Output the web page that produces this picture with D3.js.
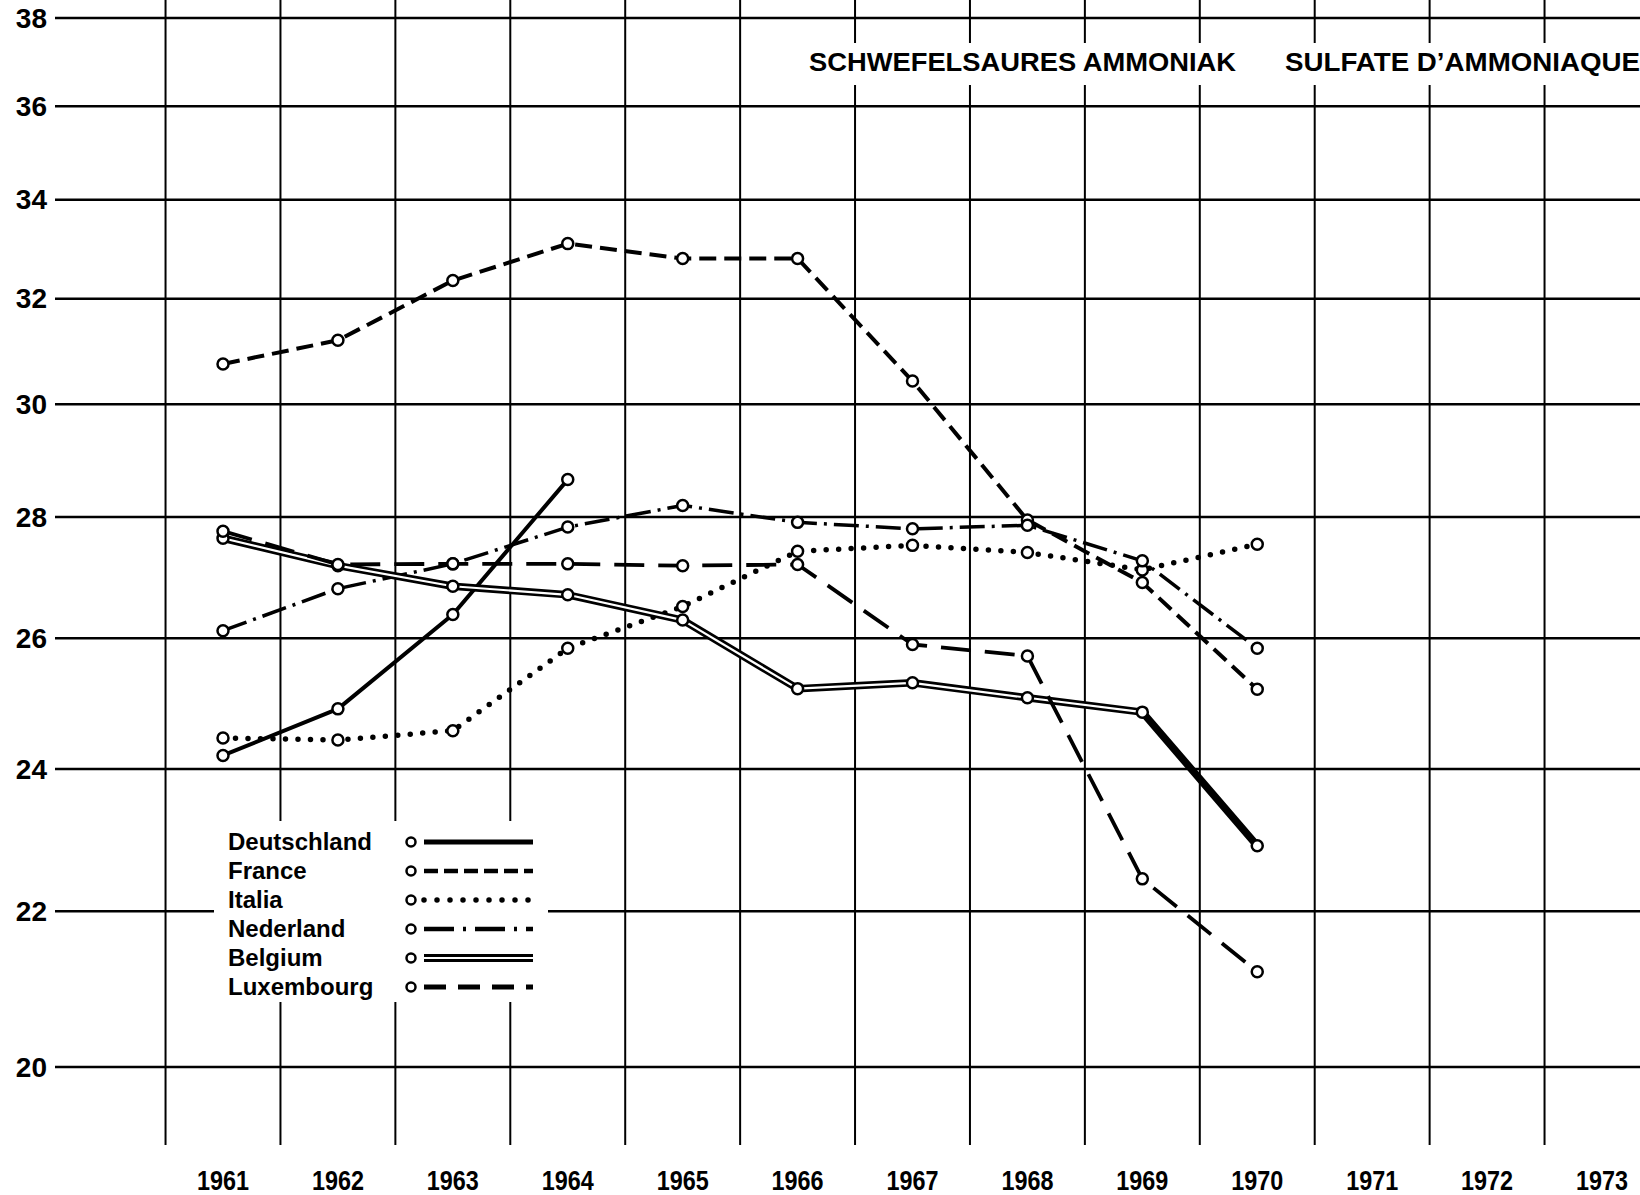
<!DOCTYPE html>
<html>
<head>
<meta charset="utf-8">
<script src="https://cdn.jsdelivr.net/npm/d3@7"></script>
<style>
  html, body { margin: 0; padding: 0; background: #fff; }
  svg { display: block; }
  text { font-family: "Liberation Sans", Arial, Helvetica, sans-serif; font-weight: bold; fill: #000; }
</style>
</head>
<body>
<svg id="chart" width="1640" height="1195"></svg>
<script>
// ---------- data ----------
const years = [1961, 1962, 1963, 1964, 1965, 1966, 1967, 1968, 1969, 1970];
const axisYears = [1961, 1962, 1963, 1964, 1965, 1966, 1967, 1968, 1969, 1970, 1971, 1972, 1973];
const yTicks = [20, 22, 24, 26, 28, 30, 32, 34, 36, 38];

const deutschland = [24.2, 24.9, 26.38, 28.65];
const france      = [30.75, 31.2, 32.36, 33.1, 32.8, 32.8, 30.43, 27.95, 26.9, 25.2];
const italia      = [24.46, 24.43, 24.57, 25.84, 26.51, 27.42, 27.52, 27.4, 27.11, 27.54];
const nederland   = [26.12, 26.8, 27.21, 27.83, 28.2, 27.91, 27.8, 27.86, 27.26, 25.84];
const belgium     = [27.64, 27.18, 26.84, 26.7, 26.29, 25.21, 25.3, 25.07, 24.85, 22.9];
const luxembourg  = [27.76, 27.2, 27.21, 27.21, 27.18, 27.2, 25.9, 25.72, 22.44, 21.2];

const seriesNames = ["Deutschland", "France", "Italia", "Nederland", "Belgium", "Luxembourg"];
const titleDe = "SCHWEFELSAURES AMMONIAK";
const titleFr = "SULFATE D\u2019AMMONIAQUE";

// ---------- styles ----------
const styles = {
  Deutschland: { width: 4,   dash: null },
  France:      { width: 4,   dash: "17 8" },
  Italia:      { width: 5.5, dash: "0 12.5", cap: "round" },
  Nederland:   { width: 3.5, dash: "25 7 3 7" },
  Belgium:     { width: 7.5, dash: null, double: true },
  Luxembourg:  { width: 3.8, dash: "30 14" }
};
const legendStyles = {
  Deutschland: { width: 5,   dash: null },
  France:      { width: 4.5, dash: "14 6" },
  Italia:      { width: 5.5, dash: "0 13", cap: "round" },
  Nederland:   { width: 4.5, dash: "30 9 3 9" },
  Belgium:     { width: 8,   dash: null, double: true },
  Luxembourg:  { width: 5,   dash: "22 12" }
};

const series = [
  { name: "Deutschland", values: deutschland },
  { name: "France", values: france },
  { name: "Italia", values: italia },
  { name: "Nederland", values: nederland },
  { name: "Belgium", values: belgium },
  { name: "Luxembourg", values: luxembourg }
];

// ---------- scales ----------
const svg = d3.select("#chart");
const x = d3.scaleLinear().domain([1961, 1973]).range([223, 1602]);
const y = d3.scaleLog().domain([20, 38]).range([1067, 18]);

// ---------- grid ----------
const grid = svg.append("g");
grid.selectAll("line.h").data(yTicks).enter().append("line")
  .attr("x1", 55).attr("x2", 1640)
  .attr("y1", d => y(d)).attr("y2", d => y(d))
  .attr("stroke", "#000").attr("stroke-width", 2.5);

const vLines = d3.range(axisYears[0] - 0.5, axisYears[axisYears.length - 1], 1);
grid.selectAll("line.v").data(vLines).enter().append("line")
  .attr("x1", d => x(d)).attr("x2", d => x(d))
  .attr("y1", 0).attr("y2", 1145)
  .attr("stroke", "#000").attr("stroke-width", 2);

// y tick labels
svg.append("g").selectAll("text").data(yTicks).enter().append("text")
  .attr("x", 47).attr("y", d => y(d))
  .attr("text-anchor", "end").attr("dominant-baseline", "central")
  .attr("font-size", 28)
  .text(d => d);

// x labels
svg.append("g").selectAll("text").data(axisYears).enter().append("text")
  .attr("x", d => x(d)).attr("y", 1190)
  .attr("text-anchor", "middle")
  .attr("font-size", 28)
  .attr("textLength", 52).attr("lengthAdjust", "spacingAndGlyphs")
  .text(d => d);

// title with white background
svg.append("rect").attr("x", 797).attr("y", 43).attr("width", 843).attr("height", 42).attr("fill", "#fff");
svg.append("text").attr("x", 809).attr("y", 71).attr("font-size", 26)
  .attr("textLength", 427).attr("lengthAdjust", "spacingAndGlyphs").text(titleDe);
svg.append("text").attr("x", 1285).attr("y", 71).attr("font-size", 26)
  .attr("textLength", 355).attr("lengthAdjust", "spacingAndGlyphs").text(titleFr);

// ---------- lines ----------
const line = d3.line().x((d, i) => x(years[i])).y(d => y(d));
const plot = svg.append("g");

series.forEach(s => {
  const st = styles[s.name];
  const p = plot.append("path")
    .attr("d", line(s.values))
    .attr("fill", "none").attr("stroke", "#000")
    .attr("stroke-width", st.width)
    .attr("stroke-linejoin", "round")
    .attr("stroke-linecap", st.cap || "butt");
  if (st.dash) p.attr("stroke-dasharray", st.dash);
  if (st.double) {
    // inner white stripe; the last segment (1969-1970) is drawn merged/solid
    plot.append("path")
      .attr("d", line(s.values.slice(0, s.values.length - 1)))
      .attr("fill", "none").attr("stroke", "#fff")
      .attr("stroke-width", 2.2).attr("stroke-linejoin", "round");
  }
});

// markers
series.forEach(s => {
  plot.selectAll(null).data(s.values).enter().append("circle")
    .attr("cx", (d, i) => x(years[i])).attr("cy", d => y(d))
    .attr("r", 5.5).attr("fill", "#fff").attr("stroke", "#000").attr("stroke-width", 2.5);
});

// ---------- legend ----------
const lg = svg.append("g");
lg.append("rect").attr("x", 214).attr("y", 821).attr("width", 334).attr("height", 181).attr("fill", "#fff");
const rowY = i => 842 + i * 29;
seriesNames.forEach((name, i) => {
  const yy = rowY(i);
  lg.append("text").attr("x", 228).attr("y", yy + 8).attr("font-size", 24).text(name);
  const st = legendStyles[name];
  const p = lg.append("line").attr("x1", 424).attr("x2", 533).attr("y1", yy).attr("y2", yy)
    .attr("stroke", "#000").attr("stroke-width", st.width)
    .attr("stroke-linecap", st.cap || "butt");
  if (st.dash) p.attr("stroke-dasharray", st.dash);
  if (st.double) {
    lg.append("line").attr("x1", 424).attr("x2", 533).attr("y1", yy).attr("y2", yy)
      .attr("stroke", "#fff").attr("stroke-width", 2.2);
  }
  lg.append("circle").attr("cx", 411).attr("cy", yy).attr("r", 4.5)
    .attr("fill", "#fff").attr("stroke", "#000").attr("stroke-width", 2.5);
});
</script>
</body>
</html>
